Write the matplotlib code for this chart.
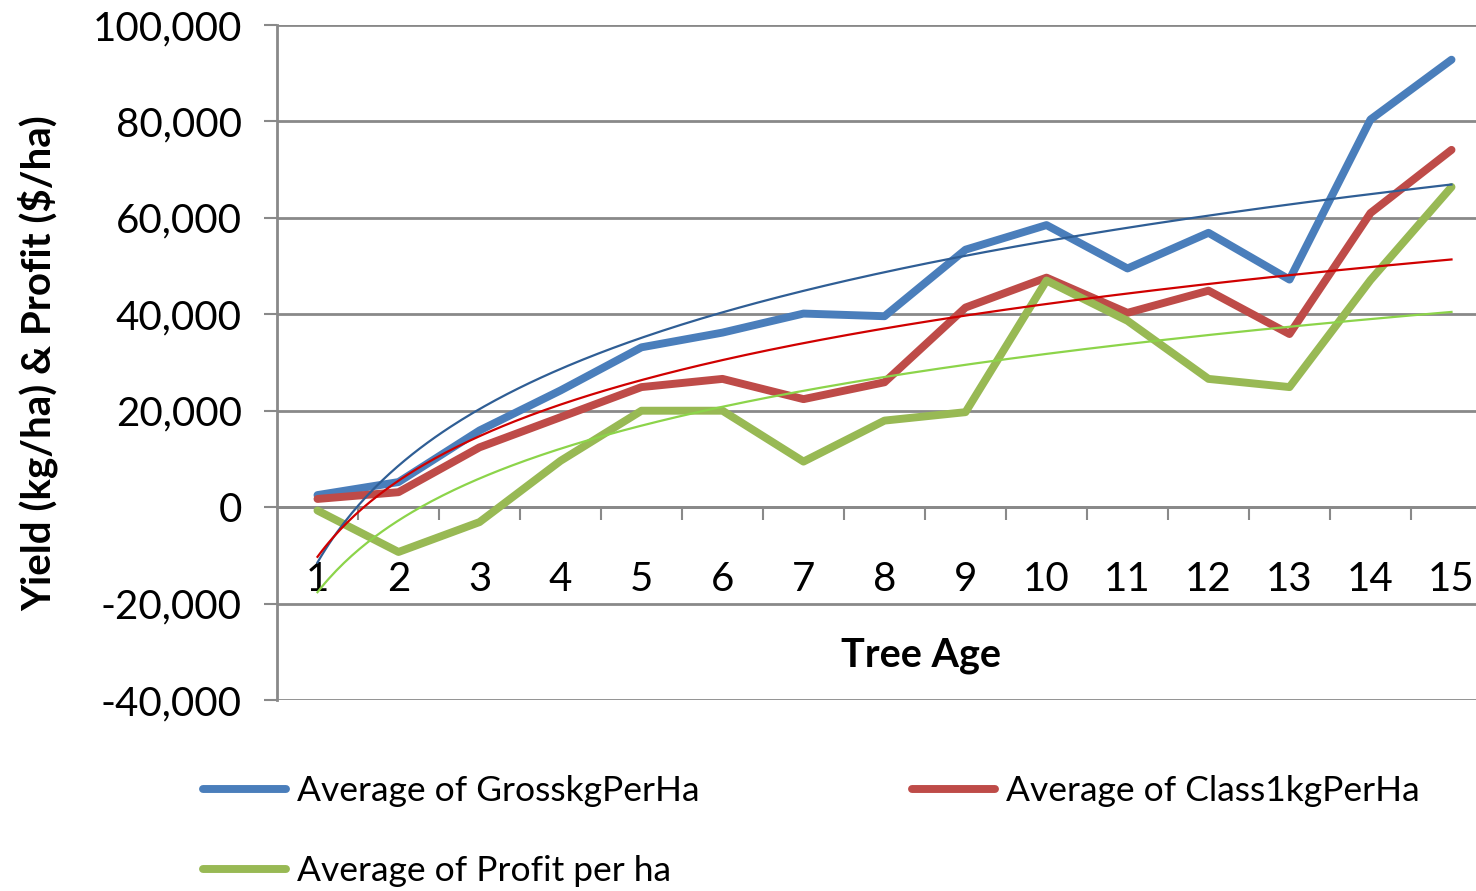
import numpy as np
import matplotlib.pyplot as plt
from matplotlib.ticker import FuncFormatter, MultipleLocator, FixedLocator

plt.rcParams['font.family'] = ['Lato', 'DejaVu Sans']
plt.rcParams['axes.unicode_minus'] = False

# data
tree_age = list(range(1, 16))
gross_kg = [2500, 5200, 15900, 24200, 33150, 36200, 40150, 39600, 53400,
            58500, 49500, 56900, 47200, 80400, 92800]
class1_kg = [1700, 3100, 12400, 18650, 24900, 26600, 22400, 25900, 41400,
             47600, 40300, 44900, 35900, 61000, 74100]
profit = [-700, -9300, -3100, 9600, 20000, 20000, 9450, 17950, 19700,
          47000, 38650, 26600, 24900, 47100, 66400]
names = ['Average of GrosskgPerHa', 'Average of Class1kgPerHa',
         'Average of Profit per ha']
colors = ['#4A7EBB', '#BE4B48', '#98B954']
trend_colors = ['#2F5E95', '#D00000', '#8CD44A']

W, H = 1476, 891
fig = plt.figure(figsize=(W / 100, H / 100), dpi=100)
# plot area: x from 277px, category width 81px, y from 25px to 700px
ax = fig.add_axes([277 / W, (H - 700) / H, 1215 / W, 675 / H])

handles = []
for i, (vals, c, tc) in enumerate(zip([gross_kg, class1_kg, profit], colors, trend_colors)):
    h, = ax.plot(tree_age, vals, color=c, lw=5.7, solid_capstyle='round',
                 solid_joinstyle='round', zorder=3 + i, label=names[i])
    handles.append(h)
    # Excel style logarithmic trendline
    b, a = np.polyfit(np.log(tree_age), vals, 1)
    xs = np.linspace(1, 15, 300)
    ax.plot(xs, a + b * np.log(xs), color=tc, lw=1.6, zorder=10 + i)

ax.set_xlim(0.5, 15.5)
ax.set_ylim(-40000, 100000)

grid_c = '#898989'
ax.yaxis.set_major_locator(MultipleLocator(20000))
ax.yaxis.set_major_formatter(FuncFormatter(lambda v, p: f'{v:,.0f}'))
ax.grid(axis='y', color=grid_c, lw=2.0, zorder=1)
ax.set_axisbelow(True)

for s in ['top', 'right']:
    ax.spines[s].set_visible(False)
ax.spines['left'].set_color(grid_c)
ax.spines['left'].set_linewidth(2.0)
ax.spines['bottom'].set_position(('data', 0))
ax.spines['bottom'].set_color(grid_c)
ax.spines['bottom'].set_linewidth(2.0)

ax.tick_params(axis='y', direction='out', length=9.4, width=1.5, color=grid_c,
               pad=16, labelsize=29, labelcolor='black')
ax.set_xticks(tree_age)
ax.set_xticklabels([str(t) for t in tree_age])
ax.xaxis.set_minor_locator(FixedLocator(np.arange(1.5, 15, 1)))
ax.tick_params(axis='x', which='major', length=0, pad=39, labelsize=29)
ax.tick_params(axis='x', which='minor', direction='out', length=9.4,
               width=1.5, color=grid_c)

fig.text(38 / W, 1 - 363 / H, 'Yield (kg/ha) & Profit ($/ha)', rotation=90,
         ha='center', va='center', fontsize=29, fontweight='bold')
fig.text(921 / W, 1 - 656 / H, 'Tree Age', ha='center', va='center',
         fontsize=28.5, fontweight='bold')

fig.legend([handles[0], handles[2], handles[1]],
           [names[0], names[2], names[1]], ncol=2, loc='upper left',
           bbox_to_anchor=(203 / W, 1 - 775 / H), frameon=False,
           fontsize=25.5, handlelength=2.35, handletextpad=0.3,
           columnspacing=6.0, labelspacing=1.36, borderpad=0, borderaxespad=0)

fig.savefig('out.png', dpi=100)
